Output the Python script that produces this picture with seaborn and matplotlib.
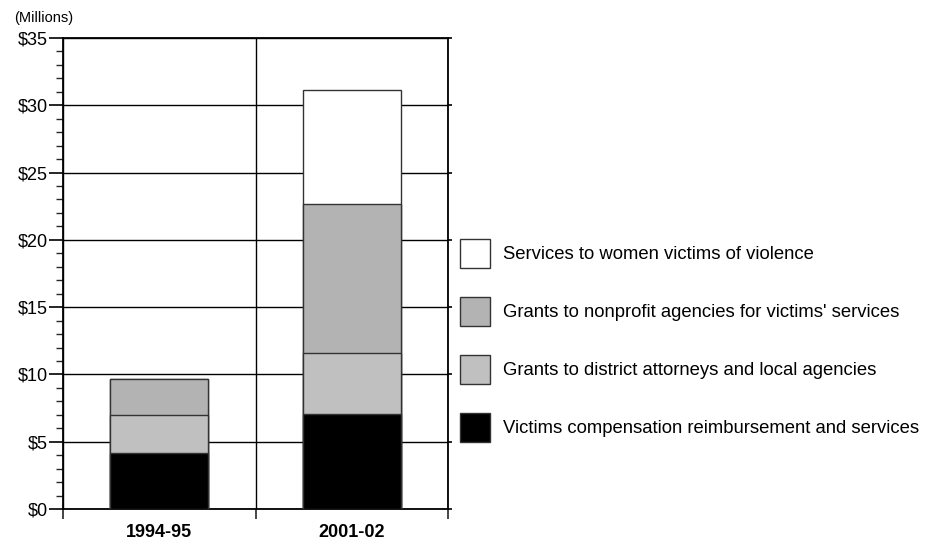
import pandas as pd
import seaborn as sns
import matplotlib.pyplot as plt
from matplotlib.patches import Patch
from matplotlib.ticker import MultipleLocator, FuncFormatter

years = ['1994-95', '2001-02']
series = ['Victims compensation reimbursement and services',
          'Grants to district attorneys and local agencies',
          "Grants to nonprofit agencies for victims' services",
          'Services to women victims of violence']
compensation = [4.15, 7.05]
district = [2.85, 4.55]
nonprofit = [2.65, 11.05]
women = [0.0, 8.45]
colors = ['#000000', '#c0c0c0', '#b3b3b3', '#ffffff']

sns.set_style('white')
plt.rcParams['font.family'] = ['Liberation Sans', 'DejaVu Sans']
plt.rcParams['text.color'] = 'black'

df = pd.DataFrame({'year': years, series[0]: compensation, series[1]: district,
                   series[2]: nonprofit, series[3]: women})
cum = df[series].cumsum(axis=1)

fig = plt.figure(figsize=(9.3, 5.42), dpi=100)
ax = fig.add_axes([63 / 930, 33 / 542, 385 / 930, 471 / 542])

# stacked look: draw cumulative totals, tallest first
for name, col in reversed(list(zip(series, colors))):
    sns.barplot(x=df['year'], y=cum[name], color=col, width=0.51, ax=ax,
                edgecolor='#333333', linewidth=1.0, saturation=1, zorder=3)

ax.set_xlim(-0.5, 1.5)
ax.set_ylim(0, 35)
ax.yaxis.set_major_locator(MultipleLocator(5))
ax.yaxis.set_minor_locator(MultipleLocator(1))
ax.yaxis.set_major_formatter(FuncFormatter(lambda v, p: f'${v:.0f}'))
ax.set_xticks([0, 1])
ax.set_xticks([-0.5, 0.5, 1.5], minor=True)
ax.set_xticklabels(years, fontweight='bold', fontsize=13)
ax.set_xlabel('')
ax.set_ylabel('')

ax.grid(True, axis='y', which='major', color='black', linewidth=1, zorder=1)
ax.grid(True, axis='x', which='minor', color='black', linewidth=1, zorder=1)
ax.set_axisbelow(True)

for s in ax.spines.values():
    s.set_visible(True)
    s.set_color('black')
    s.set_linewidth(1.3)

ax.tick_params(axis='y', which='major', left=True, right=True, direction='out',
               length=10, width=1.2, labelsize=13, pad=1, colors='black')
ax.tick_params(axis='y', which='minor', left=True, direction='out', length=5, width=1)
ax.tick_params(axis='x', which='major', length=0, pad=11, colors='black')
ax.tick_params(axis='x', which='minor', bottom=True, direction='out', length=7, width=1.2)
for t in ax.yaxis.get_major_ticks():
    t.tick2line.set_markersize(3)

fig.text(14 / 930, 1 - 18 / 542, '(Millions)', fontsize=10.5, va='center', ha='left')

handles = [Patch(facecolor=c, edgecolor='#333333', linewidth=1) for c in colors]
fig.legend(handles[::-1], series[::-1], loc='upper left',
           bbox_to_anchor=(460 / 930, 1 - 239 / 542), frameon=False,
           fontsize=13.3, handlelength=1.64, handleheight=2.06, handletextpad=0.7,
           labelspacing=1.55, borderpad=0, borderaxespad=0)

fig.savefig('out.png', dpi=100)
